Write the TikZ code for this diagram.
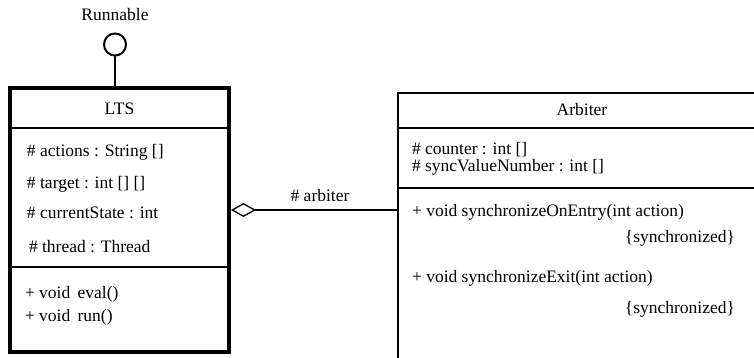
\documentclass[tikz,border=0pt]{standalone}
\usepackage{fontspec}
\setmainfont{Liberation Serif}
\usetikzlibrary{arrows.meta,calc}
\begin{document}
\begin{tikzpicture}[x=1pt,y=-1pt,
  every node/.style={font=\fontsize{17.5}{20}\selectfont, inner sep=0pt, outer sep=0pt},
  txt/.style={anchor=base west},
  ctr/.style={anchor=base},
  rgt/.style={anchor=base east},
  activebox/.style={draw, line width=4pt, minimum width=219pt, minimum height=264pt},
  classbox/.style={draw, line width=2pt, minimum width=400pt, minimum height=300pt},
  sep/.style={line width=2pt},
  iface/.style={draw, circle, line width=2pt, minimum size=22pt},
  assoc/.style={line width=2pt, {Diamond[open, length=25pt, width=14pt, line width=1.3pt]}-},
]
\useasboundingbox (0,0) rectangle (754,357);

% active class LTS
\node[activebox] (lts) at (119.5,220) {};
\draw[sep] (lts.west |- 0,128) -- (lts.east |- 0,128);
\draw[sep] (lts.west |- 0,267) -- (lts.east |- 0,267);
\node[ctr] (ltsname) at (119.5,114) {LTS};
\node[txt] (a1) at (27,156.5) {\# actions : String []};
\node[txt] (a2) at (27,188) {\# target : int [] []};
\node[txt] (a3) at (27,218) {\# currentState : int};
\node[txt] (a4) at (29,252) {\# thread : Thread};
\node[txt] (m1) at (25,298) {+ void\, eval()};
\node[txt] (m2) at (25,321) {+ void\, run()};

% provided interface
\node[iface] (run) at (115,44.5) {};
\node[ctr] (runlbl) at (115,20) {Runnable};
\draw[line width=2pt] (run.south) -- (run.south |- lts.north);

% class Arbiter (runs past the right and bottom edges)
\node[classbox, anchor=north west] (arb) at (398,93) {};
\draw[sep] (arb.west |- 0,128) -- (arb.east |- 0,128);
\draw[sep] (arb.west |- 0,188) -- (arb.east |- 0,188);
\node[ctr] (arbname) at (582,115) {Arbiter};
\node[txt] (b1) at (412,154) {\# counter : int []};
\node[txt] (b2) at (412,171.5) {\# syncValueNumber : int []};
\node[txt] (c1) at (412,216) {+ void synchronizeOnEntry(int action)};
\node[rgt] (c1s) at (735,242) {\{synchronized\}};
\node[txt] (c2) at (412,282) {+ void synchronizeExit(int action)};
\node[rgt] (c2s) at (735,313) {\{synchronized\}};

% aggregation LTS <>-- Arbiter
\draw[assoc] ($(lts.east |- 0,210)+(2,0)$) -- (arb.west |- 0,210);
\node[ctr] (rolename) at (320,201.5) {\# arbiter};
\end{tikzpicture}
\end{document}
